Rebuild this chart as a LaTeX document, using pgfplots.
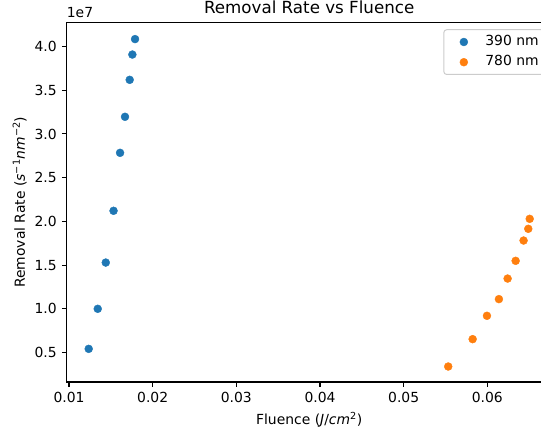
\documentclass[border=0pt]{standalone}
\usepackage{fontspec}
\setmainfont{DejaVu Sans}
\usepackage{pgfplots}
\pgfplotsset{compat=1.18}
\definecolor{c390}{HTML}{1F77B4}
\definecolor{c780}{HTML}{FF7F0E}
\definecolor{legframe}{HTML}{CCCCCC}
\newcommand{\tickfont}{\fontsize{13.9}{16.7}\selectfont}

\begin{document}
\begin{tikzpicture}
\begin{axis}[
    at={(66.7pt,49pt)}, anchor=south west,
    scale only axis, width=485pt, height=359.7pt,
    xmin=0.00972, xmax=0.0677,
    ymin=0.163, ymax=4.277,
    xtick={0.01,0.02,0.03,0.04,0.05,0.06},
    ytick={0.5,1.0,1.5,2.0,2.5,3.0,3.5,4.0},
    scaled ticks=false,
    xtick pos=lower, ytick pos=left,
    tick align=outside,
    major tick length=4.86pt,
    every tick/.style={black, line width=1.1pt},
    axis line style={line width=1.1pt},
    tick label style={font=\tickfont, inner sep=0pt},
    xticklabel shift=4.9pt, yticklabel shift=4.9pt,
    /pgf/number format/assume math mode=true,
    xticklabel style={/pgf/number format/.cd, fixed, fixed zerofill, precision=2},
    yticklabel style={/pgf/number format/.cd, fixed, fixed zerofill, precision=1},
    title={Removal Rate vs Fluence},
    every axis title/.style={font=\fontsize{16.7}{20}\selectfont,
        at={(axis description cs:0.5,1)}, anchor=base, yshift=8.3pt, inner sep=0pt},
    xlabel={Fluence (\textit{J}/\textit{cm}\textsuperscript{2})},
    ylabel={Removal Rate (\textit{s}\textsuperscript{−1}\textit{nm}\textsuperscript{−2})},
    every axis x label/.style={at={(axis description cs:0.5,0)}, anchor=base,
        yshift=-43pt, inner sep=0pt, font=\tickfont},
    every axis y label/.style={at={(axis description cs:0,0.5)}, xshift=-41.7pt,
        rotate=90, anchor=base, inner sep=0pt, font=\tickfont},
    legend image code/.code={\path (0pt,0pt) (27.8pt,0pt);
        \draw[#1, fill opacity=1, draw opacity=1] plot coordinates {(13.9pt,0pt)};},
    legend style={at={(1,1)}, anchor=north east, xshift=-6.95pt, yshift=-6.95pt,
        draw=legframe, line width=1pt, rounded corners=2.8pt,
        fill=white, fill opacity=0.8, draw opacity=1, text opacity=1,
        inner xsep=5.6pt, inner ysep=5.6pt, row sep=6.9pt, column sep=7.1pt,
        nodes={inner sep=0pt, text height=10.3pt, text depth=3pt},
        font=\tickfont},
    legend cell align=left,
    extra description/.code={
        \node[anchor=base west, inner sep=0pt, font=\tickfont, yshift=4.6pt]
            at (axis description cs:0,1) {1e7};
    },
]
% removal rate in units of 1e7 s^-1 nm^-2
\addplot[only marks, mark=*, mark size=3.97pt, color=c390, mark options={line width=0.4pt}] coordinates {
    (0.01235,0.542) (0.01343,1.000) (0.01439,1.529) (0.01532,2.121)
    (0.01610,2.784) (0.01669,3.196) (0.01725,3.619) (0.01757,3.908)
    (0.01789,4.085)
};
\addlegendentry{390 nm}
\addplot[only marks, mark=*, mark size=3.97pt, color=c780, mark options={line width=0.4pt}] coordinates {
    (0.05533,0.340) (0.05825,0.653) (0.05996,0.920) (0.06139,1.111)
    (0.06243,1.346) (0.06339,1.549) (0.06434,1.781) (0.06490,1.915)
    (0.06507,2.029)
};
\addlegendentry{780 nm}
\end{axis}
\pgfresetboundingbox
\useasboundingbox (0pt,0pt) rectangle (541pt,431pt);
\end{tikzpicture}
\end{document}
